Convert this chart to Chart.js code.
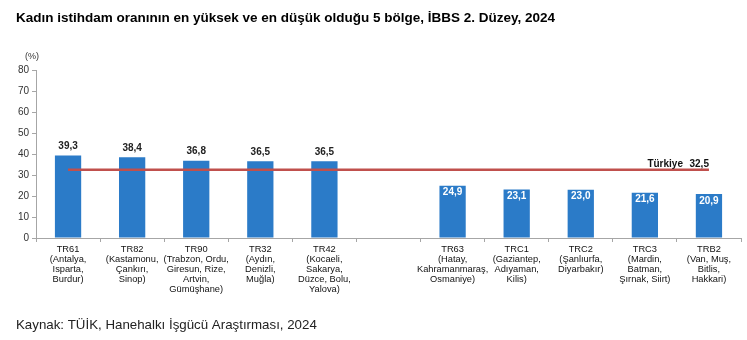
<!DOCTYPE html>
<html lang="tr">
<head>
<meta charset="UTF-8">
<title>Kadın istihdam oranı, İBBS 2. Düzey, 2024</title>
<script src="https://cdn.jsdelivr.net/npm/chart.js@4.4.1/dist/chart.umd.min.js"></script>
<style>
    html, body { margin: 0; padding: 0; background: #ffffff; }
    .wrap { position: relative; width: 747px; height: 340px; }
</style>
</head>
<body>
<div class="wrap"><canvas id="chart" width="747" height="340"></canvas></div>
<script>
// Bölgeler (boş kategori iki grubu ayırıyor)
const regions = [
    ['TR61', '(Antalya,', 'Isparta,', 'Burdur)'],
    ['TR82', '(Kastamonu,', 'Çankırı,', 'Sinop)'],
    ['TR90', '(Trabzon, Ordu,', 'Giresun, Rize,', 'Artvin,', 'Gümüşhane)'],
    ['TR32', '(Aydın,', 'Denizli,', 'Muğla)'],
    ['TR42', '(Kocaeli,', 'Sakarya,', 'Düzce, Bolu,', 'Yalova)'],
    '',
    ['TR63', '(Hatay,', 'Kahramanmaraş,', 'Osmaniye)'],
    ['TRC1', '(Gaziantep,', 'Adıyaman,', 'Kilis)'],
    ['TRC2', '(Şanlıurfa,', 'Diyarbakır)'],
    ['TRC3', '(Mardin,', 'Batman,', 'Şırnak, Siirt)'],
    ['TRB2', '(Van, Muş,', 'Bitlis,', 'Hakkari)']
];
const rates = [39.3, 38.4, 36.8, 36.5, 36.5, null, 24.9, 23.1, 23.0, 21.6, 20.9];
const turkiyeRate = 32.5;
const yTicks = [0, 10, 20, 30, 40, 50, 60, 70, 80];

const FONT = 'Arial, "Liberation Sans", sans-serif';
const fmt = v => v.toFixed(1).replace('.', ',');

// başlık, kaynak, değer etiketleri ve Türkiye etiketi
const decorations = {
    id: 'decorations',
    afterDraw(chart) {
        const ctx = chart.ctx;
        ctx.save();

        ctx.fillStyle = '#000';
        ctx.textBaseline = 'middle';
        ctx.textAlign = 'left';
        ctx.font = 'bold 13.5px ' + FONT;
        ctx.fillText('Kadın istihdam oranının en yüksek ve en düşük olduğu 5 bölge, İBBS 2. Düzey, 2024', 16, 18);

        ctx.font = '13.3px ' + FONT;
        ctx.fillStyle = '#222';
        ctx.fillText('Kaynak: TÜİK, Hanehalkı İşgücü Araştırması, 2024', 16, 325);

        ctx.font = '9px ' + FONT;
        ctx.fillStyle = '#333';
        ctx.fillText('(%)', 25, 57);

        // çubuk değerleri
        ctx.textAlign = 'center';
        ctx.font = 'bold 10px ' + FONT;
        chart.getDatasetMeta(0).data.forEach((bar, i) => {
            const v = rates[i];
            if (v == null) return;
            if (v < turkiyeRate) {
                ctx.fillStyle = '#ffffff';
                ctx.fillText(fmt(v), bar.x, bar.y + 7);
            } else {
                ctx.fillStyle = '#222';
                ctx.fillText(fmt(v), bar.x, bar.y - 9);
            }
        });

        // Türkiye çizgisinin etiketi
        const pts = chart.getDatasetMeta(1).data;
        const last = pts[pts.length - 1];
        ctx.textAlign = 'right';
        ctx.fillStyle = '#111';
        ctx.font = 'bold 10px ' + FONT;
        ctx.fillText(fmt(turkiyeRate), last.x, last.y - 5.5);
        ctx.fillText('Türkiye', last.x - 26, last.y - 5.5);
        ctx.restore();
    }
};

new Chart(document.getElementById('chart'), {
    type: 'bar',
    data: {
        labels: regions,
        datasets: [{
            label: 'Kadın istihdam oranı',
            data: rates,
            backgroundColor: '#2b7bc8',
            borderWidth: 0,
            barPercentage: 0.41,
            categoryPercentage: 1.0,
            order: 2
        }, {
            type: 'line',
            label: 'Türkiye',
            data: regions.map(() => turkiyeRate),
            borderColor: '#c0504d',
            borderWidth: 2.5,
            pointRadius: 0,
            fill: false,
            order: 1
        }]
    },
    options: {
        responsive: false,
        animation: false,
        events: [],
        layout: { padding: { left: 0, right: 6, top: 70, bottom: 0 } },
        plugins: {
            legend: { display: false },
            tooltip: { enabled: false },
            title: { display: false }
        },
        scales: {
            x: {
                grid: { offset: true, drawOnChartArea: false, drawTicks: true, tickLength: 4, color: '#a6a6a6' },
                border: { display: true, color: '#a6a6a6' },
                ticks: {
                    autoSkip: false,
                    maxRotation: 0,
                    padding: 2,
                    color: '#111',
                    font: { family: FONT, size: 9.3, lineHeight: 1.08 }
                },
                afterFit(scale) { scale.height = 102; }
            },
            y: {
                min: 0,
                max: 80,
                afterBuildTicks(scale) { scale.ticks = yTicks.map(v => ({ value: v })); },
                grid: { drawOnChartArea: false, drawTicks: true, tickLength: 4, color: '#a6a6a6' },
                border: { display: true, color: '#a6a6a6' },
                ticks: {
                    padding: 3,
                    color: '#333',
                    font: { family: FONT, size: 10 }
                },
                afterFit(scale) { scale.width = 36; }
            }
        }
    },
    plugins: [decorations]
});
</script>
</body>
</html>
